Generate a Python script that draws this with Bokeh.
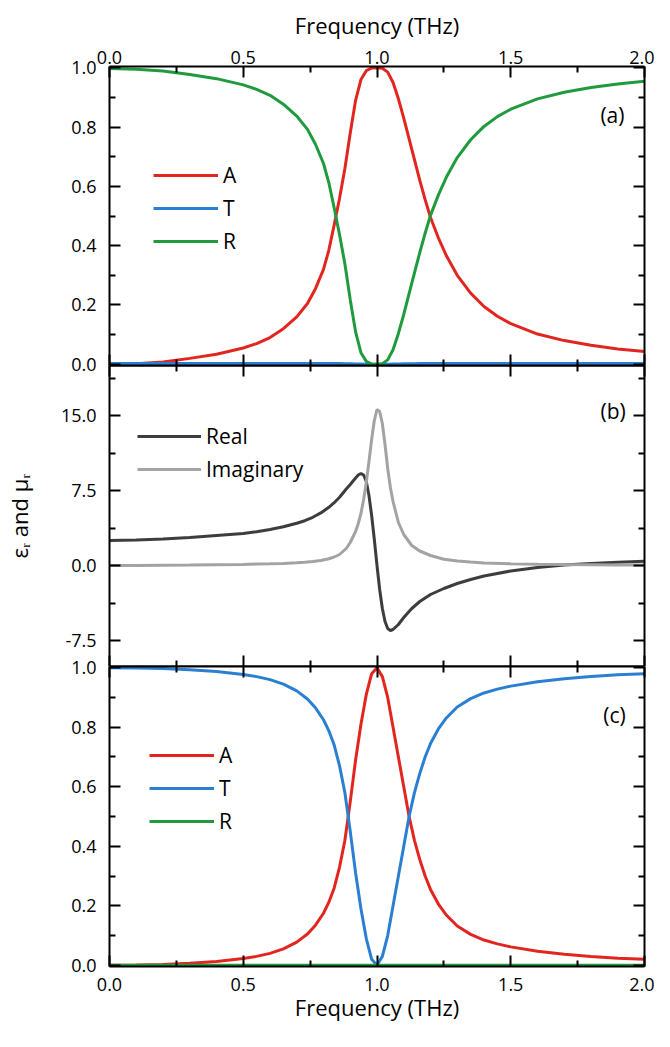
from bokeh.plotting import figure
from bokeh.layouts import column
from bokeh.models import (Range1d, LinearAxis, FixedTicker, Label, Legend,
                          LegendItem, NumeralTickFormatter, CustomLabelingPolicy)
from bokeh.embed import file_html
from bokeh.resources import INLINE

FONT = "Open Sans"

# ---------------- data ----------------
# panel (a)
freq_a = [0.00, 0.10, 0.20, 0.30, 0.40, 0.50, 0.55, 0.60, 0.65, 0.70, 0.74, 0.77,
          0.80, 0.82, 0.84, 0.86, 0.88, 0.90, 0.92, 0.94, 0.96, 0.98, 1.00, 1.02,
          1.04, 1.06, 1.08, 1.10, 1.12, 1.14, 1.16, 1.18, 1.20, 1.23, 1.26, 1.30,
          1.35, 1.40, 1.45, 1.50, 1.60, 1.70, 1.80, 1.90, 2.00]
A_a = [0.000, 0.002, 0.008, 0.020, 0.034, 0.055, 0.070, 0.090, 0.120, 0.160, 0.205, 0.255,
       0.320, 0.385, 0.470, 0.560, 0.660, 0.780, 0.890, 0.960, 0.990, 0.999, 1.000, 0.998,
       0.985, 0.950, 0.895, 0.830, 0.760, 0.690, 0.620, 0.555, 0.495, 0.425, 0.365, 0.300,
       0.240, 0.195, 0.162, 0.137, 0.102, 0.080, 0.064, 0.052, 0.043]
T_a = [0.003, 0.003, 0.003, 0.003, 0.003, 0.003, 0.003, 0.003, 0.003, 0.003, 0.003, 0.003,
       0.003, 0.003, 0.003, 0.003, 0.002, 0.002, 0.001, 0.001, 0.000, 0.000, 0.000, 0.000,
       0.000, 0.001, 0.001, 0.002, 0.002, 0.002, 0.003, 0.003, 0.003, 0.003, 0.003, 0.003,
       0.003, 0.003, 0.003, 0.003, 0.003, 0.003, 0.003, 0.003, 0.003]
R_a = [0.997, 0.995, 0.989, 0.977, 0.963, 0.942, 0.927, 0.907, 0.877, 0.837, 0.792, 0.742,
       0.677, 0.612, 0.527, 0.437, 0.338, 0.218, 0.109, 0.039, 0.010, 0.001, 0.000, 0.002,
       0.015, 0.049, 0.104, 0.168, 0.238, 0.308, 0.377, 0.442, 0.502, 0.572, 0.632, 0.697,
       0.757, 0.802, 0.835, 0.860, 0.895, 0.917, 0.933, 0.945, 0.954]

# panel (b)
freq_b = [0.00, 0.10, 0.20, 0.30, 0.40, 0.50, 0.55, 0.60, 0.65, 0.70, 0.73, 0.76,
          0.79, 0.82, 0.84, 0.86, 0.885, 0.90, 0.92, 0.93, 0.94, 0.95, 0.96, 0.97,
          0.98, 0.99, 1.00, 1.01, 1.02, 1.03, 1.04, 1.05, 1.06, 1.08, 1.10, 1.13,
          1.16, 1.20, 1.25, 1.30, 1.35, 1.40, 1.50, 1.60, 1.70, 1.80, 1.90, 2.00]
real_b = [2.50, 2.55, 2.65, 2.80, 3.00, 3.20, 3.38, 3.60, 3.88, 4.22, 4.48, 4.82,
          5.26, 5.82, 6.28, 6.82, 7.65, 8.10, 8.75, 9.05, 9.20, 9.05, 8.40, 7.00,
          5.00, 2.60, 0.00, -2.40, -4.30, -5.60, -6.30, -6.50, -6.40, -5.90, -5.20, -4.30,
          -3.60, -2.90, -2.30, -1.80, -1.40, -1.05, -0.55, -0.20, 0.05, 0.20, 0.32, 0.42]
imag_b = [0.00, 0.01, 0.03, 0.05, 0.08, 0.11, 0.14, 0.17, 0.21, 0.27, 0.32, 0.40,
          0.50, 0.68, 0.85, 1.10, 1.70, 2.30, 3.40, 4.20, 5.20, 6.60, 8.30, 10.40,
          12.60, 14.50, 15.60, 15.40, 14.20, 12.10, 9.70, 7.80, 6.40, 4.30, 3.10, 2.00,
          1.45, 1.00, 0.62, 0.45, 0.34, 0.26, 0.17, 0.12, 0.09, 0.07, 0.05, 0.04]

# panel (c)
freq_c = [0.00, 0.10, 0.20, 0.30, 0.40, 0.50, 0.55, 0.60, 0.65, 0.70, 0.74, 0.77,
          0.80, 0.82, 0.84, 0.86, 0.88, 0.90, 0.92, 0.94, 0.96, 0.98, 1.00, 1.02,
          1.04, 1.06, 1.08, 1.10, 1.12, 1.14, 1.16, 1.18, 1.20, 1.23, 1.26, 1.30,
          1.35, 1.40, 1.45, 1.50, 1.60, 1.70, 1.80, 1.90, 2.00]
A_c = [0.000, 0.001, 0.003, 0.007, 0.013, 0.023, 0.030, 0.040, 0.055, 0.078, 0.105, 0.135,
       0.175, 0.212, 0.260, 0.330, 0.420, 0.550, 0.690, 0.810, 0.910, 0.980, 1.000, 0.970,
       0.900, 0.800, 0.700, 0.600, 0.500, 0.420, 0.355, 0.300, 0.255, 0.205, 0.168, 0.132,
       0.104, 0.085, 0.072, 0.062, 0.047, 0.037, 0.030, 0.024, 0.020]
T_c = [1.000, 0.999, 0.997, 0.993, 0.987, 0.977, 0.970, 0.960, 0.945, 0.922, 0.895, 0.865,
       0.825, 0.788, 0.740, 0.670, 0.580, 0.450, 0.310, 0.190, 0.090, 0.020, 0.000, 0.030,
       0.100, 0.200, 0.300, 0.400, 0.500, 0.580, 0.645, 0.700, 0.745, 0.795, 0.832, 0.868,
       0.896, 0.915, 0.928, 0.938, 0.953, 0.963, 0.970, 0.976, 0.980]
R_c = [0.0] * len(freq_c)

# ticks
x_major = [0.0, 0.5, 1.0, 1.5, 2.0]
x_minor = [0.25, 0.75, 1.25, 1.75]
y01_major = [0.0, 0.2, 0.4, 0.6, 0.8, 1.0]
y01_minor = [0.1, 0.3, 0.5, 0.7, 0.9]
yb_major = [-7.5, 0.0, 7.5, 15.0]
yb_minor = [-3.75, 3.75, 11.25, 18.75]

RED = "#e2261f"
BLUE = "#2b7fd2"
GREEN = "#1f9a3e"
DARK = "#3d3d3d"
LIGHT = "#a3a3a3"
LW = 3
OVER = 14   # overlap between stacked canvases so edge tick labels are not cut


def styled_axis(ticks, minor, labels):
    ax = LinearAxis(ticker=FixedTicker(ticks=ticks, minor_ticks=minor),
                    formatter=NumeralTickFormatter(format="0.0"))
    ax.axis_line_width = 2
    ax.axis_line_color = "black"
    ax.major_tick_line_width = 2
    ax.minor_tick_line_width = 2
    ax.major_tick_line_color = "black"
    ax.minor_tick_line_color = "black"
    ax.major_tick_in = 11
    ax.major_tick_out = 0
    ax.minor_tick_in = 6
    ax.minor_tick_out = 0
    ax.axis_label_text_font = FONT
    ax.axis_label_text_font_style = "normal"
    ax.axis_label_text_font_size = "22px"
    ax.axis_label_text_color = "black"
    if labels:
        ax.major_label_text_font = FONT
        ax.major_label_text_font_size = "18px"
        ax.major_label_text_color = "black"
    else:
        ax.major_label_policy = CustomLabelingPolicy(code="return []")
        ax.major_label_text_font_size = "0px"
        ax.major_label_standoff = 0
    return ax


def make_fig(y0, y1, fh, top, bottom, transparent=False):
    p = figure(frame_width=535, frame_height=fh,
               x_range=Range1d(0, 2), y_range=Range1d(y0, y1),
               output_backend="svg", toolbar_location=None,
               min_border_left=105, min_border_right=14,
               min_border_top=top, min_border_bottom=bottom,
               x_axis_location=None, y_axis_location=None)
    p.grid.visible = False
    p.outline_line_color = None
    if transparent:
        p.background_fill_alpha = 0
        p.border_fill_alpha = 0
    else:
        p.background_fill_color = "white"
        p.border_fill_color = "white"
    return p


def legend(items, loc, gw):
    lg = Legend(items=items, location=loc, glyph_width=gw, glyph_height=20,
                label_standoff=5, spacing=5, padding=0, margin=0,
                border_line_color=None, background_fill_alpha=0,
                label_text_font=FONT, label_text_font_size="21px",
                label_text_color="black")
    return lg


def panel_label(p, text, x, y):
    p.add_layout(Label(x=x, y=y, text=text, text_align="right",
                       text_baseline="middle", text_font=FONT,
                       text_font_size="21px", text_color="black"))


# ---------------- panel (a) ----------------
p1 = make_fig(-0.004, 1.004, 299, 66, OVER)
ax_top = styled_axis(x_major, x_minor, True)
ax_top.axis_label = "Frequency (THz)"
ax_top.major_label_standoff = 3
ax_top.axis_label_standoff = 8
p1.add_layout(ax_top, "above")
p1.add_layout(styled_axis(x_major, x_minor, False), "below")
ax_l1 = styled_axis(y01_major, y01_minor, True)
ax_l1.major_label_standoff = 13
p1.add_layout(ax_l1, "left")
p1.add_layout(styled_axis(y01_major, y01_minor, False), "right")

rA1 = p1.line(freq_a, A_a, line_color=RED, line_width=LW)
rT1 = p1.line(freq_a, T_a, line_color=BLUE, line_width=LW)
rR1 = p1.line(freq_a, R_a, line_color=GREEN, line_width=LW)
p1.add_layout(legend([LegendItem(label="A", renderers=[rA1]),
                      LegendItem(label="T", renderers=[rT1]),
                      LegendItem(label="R", renderers=[rR1])], (44, 110), 65))
panel_label(p1, "(a)", 1.925, 0.84)

# ---------------- panel (b) ----------------
p2 = make_fig(-10.1, 20.0, 301, 0, 0, transparent=True)
p2.margin = (-OVER, 0, 0, 0)
p2.add_layout(styled_axis(x_major, x_minor, False), "above")
p2.add_layout(styled_axis(x_major, x_minor, False), "below")
ax_l2 = styled_axis(yb_major, yb_minor, True)
ax_l2.major_label_standoff = 13
ax_l2.axis_label = "\u03b5\u1d63 and \u03bc\u1d63"
ax_l2.axis_label_standoff = 24
p2.add_layout(ax_l2, "left")
p2.add_layout(styled_axis(yb_major, yb_minor, False), "right")

rRe = p2.line(freq_b, real_b, line_color=DARK, line_width=LW)
rIm = p2.line(freq_b, imag_b, line_color=LIGHT, line_width=LW)
p2.add_layout(legend([LegendItem(label="Real", renderers=[rRe]),
                      LegendItem(label="Imaginary", renderers=[rIm])], (28, 183), 64))
panel_label(p2, "(b)", 1.93, 15.5)

# ---------------- panel (c) ----------------
p3 = make_fig(-0.004, 1.004, 300, OVER, 64, transparent=True)
p3.margin = (-OVER, 0, 0, 0)
p3.add_layout(styled_axis(x_major, x_minor, False), "above")
ax_b3 = styled_axis(x_major, x_minor, True)
ax_b3.axis_label = "Frequency (THz)"
ax_b3.major_label_standoff = 11
ax_b3.axis_label_standoff = -2
p3.add_layout(ax_b3, "below")
ax_l3 = styled_axis(y01_major, y01_minor, True)
ax_l3.major_label_standoff = 13
p3.add_layout(ax_l3, "left")
p3.add_layout(styled_axis(y01_major, y01_minor, False), "right")

rA3 = p3.line(freq_c, A_c, line_color=RED, line_width=LW)
rT3 = p3.line(freq_c, T_c, line_color=BLUE, line_width=LW)
rR3 = p3.line(freq_c, R_c, line_color=GREEN, line_width=LW)
p3.add_layout(legend([LegendItem(label="A", renderers=[rA3]),
                      LegendItem(label="T", renderers=[rT3]),
                      LegendItem(label="R", renderers=[rR3])], (40, 131), 65))
panel_label(p3, "(c)", 1.93, 0.84)

layout = column(p1, p2, p3, spacing=0)
open("out.html", "w").write(file_html(layout, INLINE))
